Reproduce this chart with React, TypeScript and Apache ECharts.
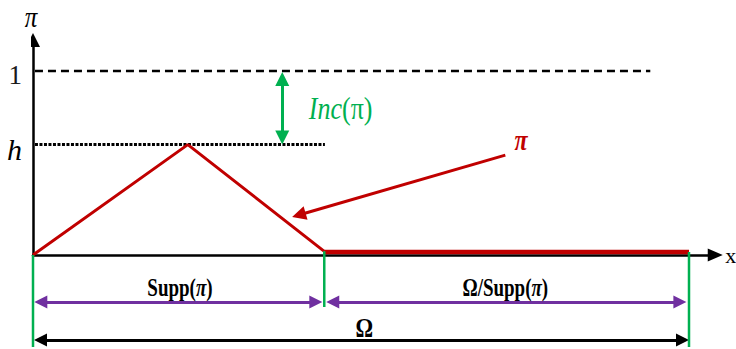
import React, { useEffect, useRef } from 'react';
import * as echarts from 'echarts';

// ---- domain (x: length along Ω, y: possibility degree) ----
const xMin = 0;
const xMax = 10.4;
const yMin = -0.5;
const yMax = 1.35;

const peakX = 2.36;
const suppEnd = 4.44;
const omegaEnd = 10;
const hLevel = 0.6;
const fullLevel = 1;

const yTickValues = [hLevel, fullLevel];
const yTickLabels = ['{h|h}', '{one|1}'];

// membership function π
const piRise = [[0, 0], [peakX, hLevel], [suppEnd, 0.02]];
const piFlat = [[suppEnd, 0.016], [omegaEnd, 0.016]];

// reference levels
const dashedLine = [[0.03, fullLevel], [9.41, fullLevel]];
const dottedLine = [[0.03, hLevel], [4.45, hLevel]];

// arrows (tip to tip)
const yAxisArrow = [[0, 0], [0, 1.207]];
const incArrow = [[3.8, 0.995], [3.8, 0.6]];
const pointerArrow = [[7.2, 0.543], [3.95, 0.207]];
const suppArrow = [[0.02, -0.255], [4.41, -0.255]];
const complArrow = [[4.47, -0.255], [9.96, -0.255]];
const omegaArrow = [[0.015, -0.462], [10.0, -0.462]];

// green guides
const guides = [
  [[0, 0], [0, -0.5]],
  [[suppEnd, 0.02], [suppEnd, -0.283]],
  [[omegaEnd, 0.016], [omegaEnd, -0.5]],
];

// text annotations
const labelTexts = [
  '{r|Supp(}{i|π}{r|)}',
  '{r|Ω/Supp(}{i|π}{r|)}',
  '{b|Ω}',
  '{gi|Inc}{g|(π)}',
  '{red|π}',
  '{ax|π}',
];
const labelPos = [
  [2.24, -0.175],
  [7.2, -0.175],
  [5.05, -0.395],
  [4.69, 0.8],
  [7.44, 0.625],
  [-0.03, 1.29],
];
const labelStretch = [1.3, 1.3, 1.2, 1.22, 1.2, 1.15];

const SERIF = "'Liberation Serif', 'Times New Roman', serif";
const GREEN = '#00b050';
const PURPLE = '#7030a0';
const RED = '#c00000';

const GRID_W = 682.24;
const GRID_H = 340.4;
const PX_X = GRID_W / (xMax - xMin);
const PX_Y = GRID_H / (yMax - yMin);

const RICH = {
  r: { fontFamily: SERIF, fontSize: 19, fontWeight: 'bold', fill: '#000', color: '#000' },
  i: { fontFamily: SERIF, fontSize: 19, fontWeight: 'bold', fontStyle: 'italic', fill: '#000', color: '#000' },
  b: { fontFamily: SERIF, fontSize: 22, fontWeight: 'bold', fill: '#000', color: '#000' },
  gi: { fontFamily: SERIF, fontSize: 26, fontStyle: 'italic', fill: GREEN, color: GREEN },
  g: { fontFamily: SERIF, fontSize: 26, fill: GREEN, color: GREEN },
  red: { fontFamily: SERIF, fontSize: 24, fontStyle: 'italic', fontWeight: 'bold', fill: RED, color: RED },
  ax: { fontFamily: SERIF, fontSize: 25, fontStyle: 'italic', fill: '#000', color: '#000' },
};

// move point b toward a by px pixels
function inset(a: number[], b: number[], px: number) {
  const dx = (a[0] - b[0]) * PX_X;
  const dy = (a[1] - b[1]) * PX_Y;
  const len = Math.hypot(dx, dy);
  return [b[0] + ((dx / len) * px) / PX_X, b[1] + ((dy / len) * px) / PX_Y];
}

function arrowSeries(seg: number[][], color: string, width: number, size: number, both: boolean) {
  const a = both ? inset(seg[1], seg[0], size / 2) : seg[0];
  const b = inset(seg[0], seg[1], size / 2);
  return {
    type: 'lines',
    coordinateSystem: 'cartesian2d',
    silent: true,
    z: 4,
    symbol: [both ? 'triangle' : 'none', 'triangle'],
    symbolSize: size,
    lineStyle: { color, width, opacity: 1, curveness: 0, cap: 'butt' },
    data: [{ coords: [a, b] }],
  };
}

function plainLine(data: number[][], color: string, width: number, type: any, z = 3) {
  return {
    type: 'line',
    silent: true,
    z,
    showSymbol: false,
    symbol: 'none',
    lineStyle: { color, width, type, cap: 'butt' },
    data,
  };
}

export default function App() {
  const ref = useRef<HTMLDivElement>(null);
  useEffect(() => {
    document.body.style.margin = '0';
    const chart = echarts.init(ref.current!, undefined, { renderer: 'svg' });
    const option: any = {
      animation: false,
      backgroundColor: '#ffffff',
      grid: {
        left: 33,
        top: 6.6,
        width: GRID_W,
        height: GRID_H,
        containLabel: false,
        outerBoundsMode: 'none',
      },
      xAxis: {
        type: 'value',
        min: xMin,
        max: xMax,
        axisLine: {
          onZero: true,
          symbol: ['none', 'triangle'],
          symbolSize: [13, 15],
          lineStyle: { color: '#000', width: 2.5 },
        },
        axisTick: { show: false },
        axisLabel: { show: false },
        splitLine: { show: false },
        name: 'x',
        nameLocation: 'end',
        nameGap: 10,
        nameTextStyle: {
          fontFamily: SERIF,
          fontSize: 22,
          color: '#000',
          padding: [6, 0, 0, 0],
        },
      },
      yAxis: {
        type: 'value',
        min: yMin,
        max: yMax,
        axisLine: { show: false },
        axisTick: { show: false },
        splitLine: { show: false },
        axisLabel: {
          show: true,
          customValues: yTickValues,
          margin: 11,
          formatter: (v: number) => yTickLabels[yTickValues.indexOf(v)] ?? '',
          rich: {
            one: { fontFamily: SERIF, fontSize: 27, color: '#1a1a1a', padding: [8, 0, 0, 0] },
            h: { fontFamily: SERIF, fontSize: 30, fontStyle: 'italic', color: '#000', padding: [9, 0, 0, 0] },
          },
        },
      },
      series: [
        plainLine(dashedLine, '#000', 2.5, [8, 5]),
        plainLine(dottedLine, '#000', 3, [3, 1.5]),
        plainLine(piRise, RED, 3, 'solid', 5),
        plainLine(piFlat, RED, 4.5, 'solid', 5),
        ...guides.map((g) => plainLine(g, GREEN, 2.5, 'solid', 6)),
        arrowSeries(yAxisArrow, '#000', 2.5, 14, false),
        arrowSeries(incArrow, GREEN, 3, 14, true),
        arrowSeries(pointerArrow, RED, 3, 14, false),
        arrowSeries(suppArrow, PURPLE, 3, 13, true),
        arrowSeries(complArrow, PURPLE, 3, 13, true),
        arrowSeries(omegaArrow, '#000', 3, 13, true),
      ],
    };
    chart.setOption(option);

    // annotations placed through the grid's own scales
    const graphic = labelPos.map((p, i) => {
      const px = chart.convertToPixel({ gridIndex: 0 }, p) as number[];
      return {
        type: 'text',
        x: px[0],
        y: px[1],
        scaleY: labelStretch[i],
        silent: true,
        z: 10,
        style: {
          text: labelTexts[i],
          align: 'center',
          verticalAlign: 'middle',
          rich: RICH,
        },
      };
    });
    chart.setOption({ graphic });
    return () => chart.dispose();
  }, []);
  return <div ref={ref} style={{ width: 736, height: 349 }} />;
}
